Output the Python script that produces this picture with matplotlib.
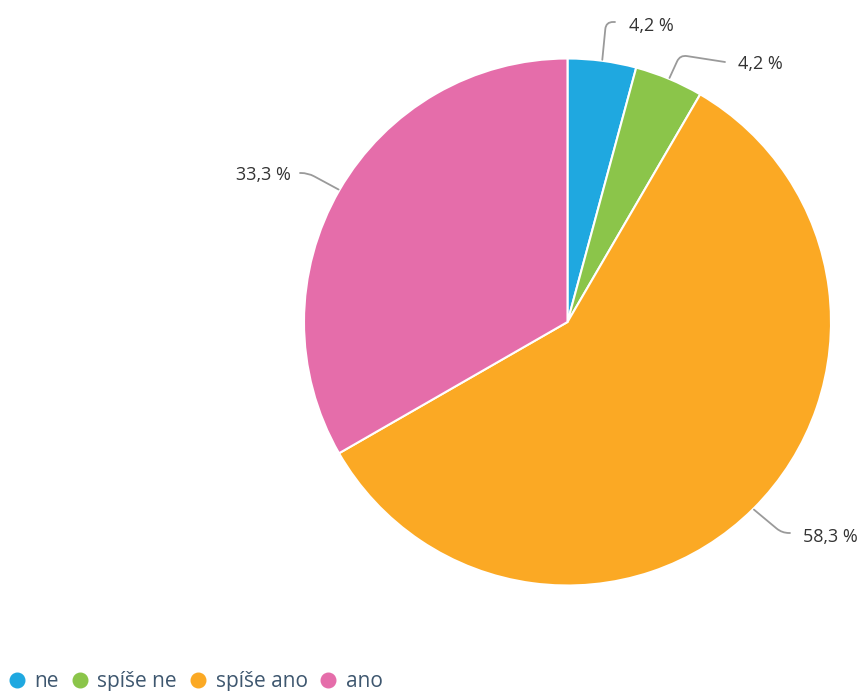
import numpy as np
import matplotlib.pyplot as plt
from matplotlib.path import Path
from matplotlib.patches import PathPatch
from matplotlib.lines import Line2D

plt.rcParams['font.family'] = ['Open Sans', 'DejaVu Sans']

# answers and their shares (%)
categories = ["ne", "spíše ne", "spíše ano", "ano"]
shares = [4.2, 4.2, 58.3, 33.3]
colors = ["#1fa8e0", "#8bc54a", "#fba924", "#e56daa"]

# canvas is laid out in pixels, y pointing up
W, H = 864, 691
cx, cy, r = 567.5, H - 322, 263.5

# connector bend / end and label anchor for each slice
bends = [(606, 669), (680, 636), (782, 158), (308, 518)]
ends = [(615, 669), (725, 629), (790, 158), (300, 518)]
label_pos = [(629, 665), (738, 627), (803, 154), (291, 516)]
label_ha = ["left", "left", "left", "right"]

fig = plt.figure(figsize=(W / 100, H / 100), dpi=100)
ax = fig.add_axes([0, 0, 1, 1])

wedges, _ = ax.pie(shares, colors=colors, startangle=90, counterclock=False,
                   center=(cx, cy), radius=r,
                   wedgeprops=dict(edgecolor="white", linewidth=1.5))


def connector(p0, p1, p2, rad=7):
    p0, p1, p2 = map(np.array, (p0, p1, p2))
    a = p1 + (p0 - p1) / np.linalg.norm(p0 - p1) * rad
    b = p1 + (p2 - p1) / np.linalg.norm(p2 - p1) * rad
    verts = [p0, a, p1, b, p2]
    codes = [Path.MOVETO, Path.LINETO, Path.CURVE3, Path.CURVE3, Path.LINETO]
    return PathPatch(Path(verts, codes), fill=False, edgecolor="#9a9a9a",
                     linewidth=1.3, capstyle="round")


for w, s, bend, end, pos, ha in zip(wedges, shares, bends, ends, label_pos, label_ha):
    mid = np.deg2rad((w.theta1 + w.theta2) / 2)
    edge = (cx + (r + 1) * np.cos(mid), cy + (r + 1) * np.sin(mid))
    ax.add_patch(connector(edge, bend, end))
    ax.text(pos[0], pos[1], f"{s:.1f}".replace(".", ",") + " %",
            ha=ha, va="center", fontsize=13, color="#333333")

handles = [Line2D([], [], linestyle="none", marker="o", markersize=10.5,
                  markerfacecolor=c, markeredgecolor=c) for c in colors]
ax.legend(handles, categories, loc="lower left", bbox_to_anchor=(-0.012, -0.029),
          ncol=4, frameon=False, handlelength=0.8, handletextpad=0.45,
          columnspacing=0.6, fontsize=15, labelcolor="#3e576f")

ax.set_xlim(0, W)
ax.set_ylim(0, H)
ax.set_aspect("equal")
ax.axis("off")

fig.savefig("out.png", dpi=100, facecolor="white")
